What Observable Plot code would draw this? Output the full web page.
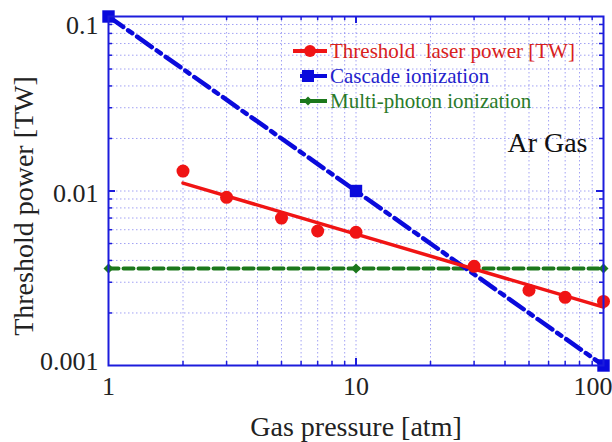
<!DOCTYPE html>
<html>
<head>
<meta charset="utf-8">
<script src="https://cdn.jsdelivr.net/npm/d3@7"></script>
<script src="https://cdn.jsdelivr.net/npm/@observablehq/plot@0.6"></script>
<style>
  body { margin: 0; background: #fff; }
  #chart svg { display: block; }
</style>
</head>
<body>
<div id="chart"></div>
<script>
// Measured threshold laser power in Ar gas
const pressure = [2, 3, 5, 7, 10, 30, 50, 70, 100];
const thresholdPower = [0.013, 0.0092, 0.0070, 0.0059, 0.0058, 0.0037, 0.0027, 0.00246, 0.00233];

// Power-law fit through the measurements (end points)
const fitPressure = [2, 100];
const fitPower = [0.0111, 0.00216];

// Cascade ionization estimate
const cascadePressure = [1, 10, 100];
const cascadePower = [0.1, 0.01, 0.001];

// Multi-photon ionization estimate
const multiPressure = [1, 10, 100];
const multiPower = [0.0036, 0.0036, 0.0036];

// Axis ticks and labels
const xTicks = [1, 10, 100];
const xTickLabels = ["1", "10", "100"];
const yTicks = [0.1, 0.01, 0.001];
const yTickLabels = ["0.1", "0.01", "0.001"];
const legendLabels = ["Threshold  laser power [TW]", "Cascade ionization", "Multi-photon ionization"];

const RED = "#f01414", RED_TEXT = "#d82020";
const BLUE = "#0a0adc", BLUE_TEXT = "#2323cc";
const GREEN = "#1c781c", GREEN_TEXT = "#2a7a2a";
const FRAME = "#1c1cdc", GRID = "#7a7af0";
const FONT = "Liberation Serif";

// minor positions within each decade
const xMinor = [1, 10].flatMap(d => d3.range(2, 10).map(k => d * k));
const yMinor = [0.001, 0.01].flatMap(d => d3.range(2, 10).map(k => +(d * k).toPrecision(3)));
const xAll = [...xMinor, 10];
const yAll = [...yMinor, 0.01];

const W = 612, H = 442;
const mL = 108, mR = 9, mT = 16, mB = 77;
const innerW = W - mL - mR, innerH = H - mT - mB;

const pts = pressure.map((p, i) => ({p, v: thresholdPower[i]}));
const fit = fitPressure.map((p, i) => ({p, v: fitPower[i]}));
const casc = cascadePressure.map((p, i) => ({p, v: cascadePower[i]}));
const multi = multiPressure.map((p, i) => ({p, v: multiPower[i]}));

const txt = {fill: "#222", fontFamily: FONT};

const plot = Plot.plot({
  width: W,
  height: H,
  marginLeft: mL,
  marginRight: mR,
  marginTop: mT,
  marginBottom: mB,
  style: {"font-family": FONT, "background": "#fff"},
  x: {type: "log", domain: [1, 100], axis: null},
  y: {type: "log", domain: [0.001, 0.1], axis: null},
  marks: [
    // dotted grid
    Plot.ruleX(xAll, {stroke: GRID, strokeOpacity: 0.7, strokeWidth: 1, strokeDasharray: "1.5,2.5"}),
    Plot.ruleY(yAll, {stroke: GRID, strokeOpacity: 0.7, strokeWidth: 1, strokeDasharray: "1.5,2.5"}),

    // multi-photon ionization
    Plot.line(multi, {x: "p", y: "v", stroke: GREEN, strokeWidth: 4, strokeDasharray: "10,5"}),
    Plot.dot(multi, {x: "p", y: "v", symbol: "diamond2", r: 4.5, fill: GREEN, stroke: "none"}),

    // cascade ionization
    Plot.line(casc, {x: "p", y: "v", stroke: BLUE, strokeWidth: 4.5, strokeDasharray: "18,6,5,6"}),
    Plot.dot(casc, {x: "p", y: "v", symbol: "square", r: 7, fill: BLUE, stroke: "none"}),

    // threshold laser power
    Plot.line(fit, {x: "p", y: "v", stroke: RED, strokeWidth: 3.5}),
    Plot.dot(pts, {x: "p", y: "v", r: 6.5, fill: RED, stroke: "none"}),

    Plot.frame({stroke: FRAME, strokeWidth: 2}),

    // inward ticks on all four sides
    Plot.ruleX(xMinor, {stroke: FRAME, strokeWidth: 1.5, insetTop: innerH - 4}),
    Plot.ruleX(xMinor, {stroke: FRAME, strokeWidth: 1.5, insetBottom: innerH - 4}),
    Plot.ruleX([10], {stroke: FRAME, strokeWidth: 2, insetTop: innerH - 7}),
    Plot.ruleX([10], {stroke: FRAME, strokeWidth: 2, insetBottom: innerH - 7}),
    Plot.ruleY(yMinor, {stroke: FRAME, strokeWidth: 1.5, insetRight: innerW - 4}),
    Plot.ruleY(yMinor, {stroke: FRAME, strokeWidth: 1.5, insetLeft: innerW - 4}),
    Plot.ruleY([0.01], {stroke: FRAME, strokeWidth: 2, insetRight: innerW - 7}),
    Plot.ruleY([0.01], {stroke: FRAME, strokeWidth: 2, insetLeft: innerW - 7}),

    // x tick labels
    Plot.text(xTicks.slice(0, 2), {...txt, x: d => d, text: (d, i) => xTickLabels[i], frameAnchor: "bottom", dy: 21, lineAnchor: "middle", fontSize: 26}),
    Plot.text(xTicks.slice(2), {...txt, x: d => d, text: () => xTickLabels[2], frameAnchor: "bottom", dy: 21, dx: 9, textAnchor: "end", lineAnchor: "middle", fontSize: 26}),

    // y tick labels
    Plot.text([yTicks[0]], {...txt, y: d => d, text: () => yTickLabels[0], frameAnchor: "left", dx: -10, dy: -1, textAnchor: "end", lineAnchor: "top", fontSize: 26}),
    Plot.text([yTicks[1]], {...txt, y: d => d, text: () => yTickLabels[1], frameAnchor: "left", dx: -10, dy: 3, textAnchor: "end", lineAnchor: "middle", fontSize: 26}),
    Plot.text([yTicks[2]], {...txt, y: d => d, text: () => yTickLabels[2], frameAnchor: "left", dx: -10, dy: 4, textAnchor: "end", lineAnchor: "bottom", fontSize: 26}),

    // axis titles
    Plot.text(["Gas pressure [atm]"], {...txt, frameAnchor: "bottom", dy: 62, lineAnchor: "middle", fontSize: 28}),
    Plot.text(["Threshold power [TW]"], {...txt, frameAnchor: "left", dx: -84, dy: 15, rotate: -90, textAnchor: "middle", lineAnchor: "middle", fontSize: 28}),

    // annotation
    Plot.text(["Ar Gas"], {...txt, fill: "#111", frameAnchor: "top-right", dx: -16, dy: 127, textAnchor: "end", lineAnchor: "middle", fontSize: 28})
  ]
});

// legend in the upper right of the plot area
const svg = d3.select(plot);
const lg = svg.append("g").attr("font-family", FONT).attr("font-size", 21).attr("text-anchor", "start");
const rows = [
  {y: 51, color: RED, text: RED_TEXT, x1: 293, mx: 310, shape: "circle"},
  {y: 76, color: BLUE, text: BLUE_TEXT, x1: 300, mx: 308, shape: "square"},
  {y: 101, color: GREEN, text: GREEN_TEXT, x1: 300, mx: 308, shape: "diamond"}
];
rows.forEach((r, i) => {
  lg.append("line").attr("x1", r.x1).attr("x2", 327).attr("y1", r.y).attr("y2", r.y)
    .attr("stroke", r.color).attr("stroke-width", 4);
  if (r.shape === "circle") {
    lg.append("circle").attr("cx", r.mx).attr("cy", r.y).attr("r", 6).attr("fill", r.color);
  } else if (r.shape === "square") {
    lg.append("rect").attr("x", r.mx - 6).attr("y", r.y - 6).attr("width", 12).attr("height", 12).attr("fill", r.color);
  } else {
    lg.append("path").attr("d", `M${r.mx},${r.y - 4.5}L${r.mx + 4.5},${r.y}L${r.mx},${r.y + 4.5}L${r.mx - 4.5},${r.y}Z`).attr("fill", r.color);
  }
  lg.append("text").attr("x", 330).attr("y", r.y).attr("dy", "0.32em")
    .attr("fill", r.text).style("white-space", "pre").text(legendLabels[i]);
});

document.getElementById("chart").appendChild(plot);
</script>
</body>
</html>
